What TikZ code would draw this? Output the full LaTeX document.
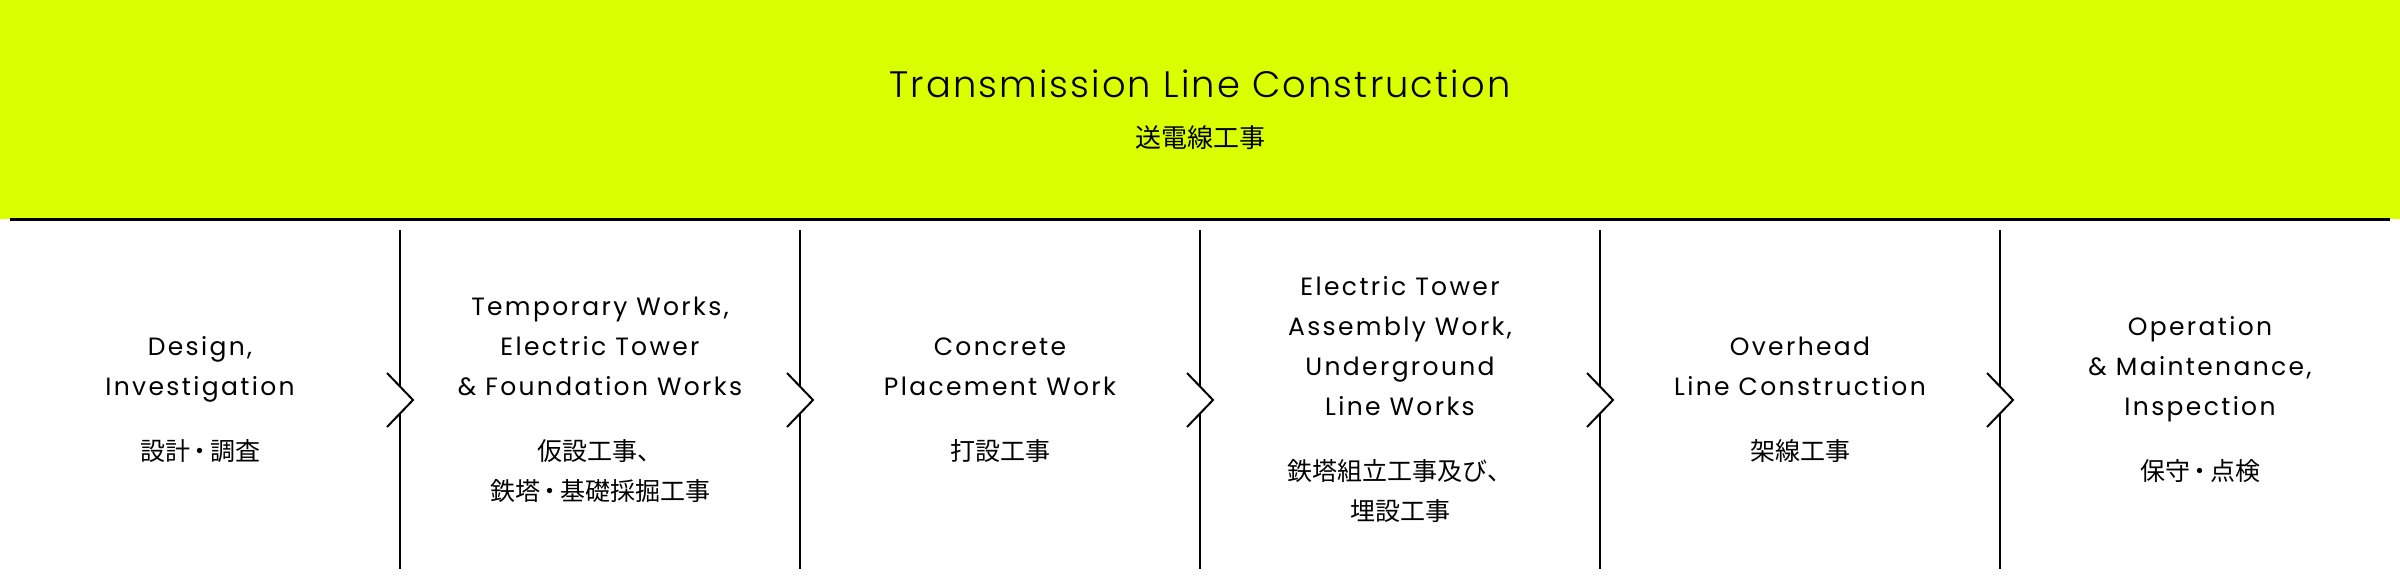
\documentclass[tikz,border=0pt]{standalone}
\usepackage{fontspec}
\setmainfont{Poppins}
\newfontfamily\jpfont{Noto Sans CJK JP}
\newfontfamily\entitlefont{Poppins}[UprightFont=* Light, LetterSpace=5.8]
\newfontfamily\enbodyfont{Poppins}[LetterSpace=9.4]
\newcommand\jdot{\kern-0.1em・\kern-0.1em}
\definecolor{limebar}{RGB}{217,255,0}
\begin{document}
\begin{tikzpicture}[x=0.5pt,y=-0.5pt,
  en/.style={font=\enbodyfont\fontsize{12.5}{15}\selectfont, anchor=base, inner sep=0pt},
  jp/.style={font=\jpfont\fontsize{12.5}{15}\selectfont, anchor=base, inner sep=0pt},
  divider/.style={line width=1pt},
  chevron/.style={line width=1pt, line join=miter},
  rule/.style={line width=1.25pt}]
\useasboundingbox (0,0) rectangle (2400,580);
\fill[limebar] (0,0) rectangle (2400,218.5);
\coordinate (ruleL) at (10,219.5);
\coordinate (ruleR) at (2390,219.5);
\draw[rule] (ruleL) -- (ruleR);
% title
\node[anchor=base, inner sep=0pt, font=\entitlefont\fontsize{18.4}{22}\selectfont] (title) at (1200,97.3) {Transmission Line Construction};
\node[jp, font=\jpfont\fontsize{13}{15}\selectfont] (titlejp) at (1200,147) {送電線工事};
% dividers and chevrons
\foreach \i in {1,...,5}{
  \coordinate (top\i) at (400*\i,230);
  \coordinate (upx\i) at (400*\i,386.5);
  \coordinate (lox\i) at (400*\i,413.5);
  \coordinate (bot\i) at (400*\i,569);
  \coordinate (chA\i) at (400*\i-13,373);
  \coordinate (chB\i) at (400*\i+13,400);
  \coordinate (chC\i) at (400*\i-13,427);
  \draw[divider] (top\i) -- (upx\i);
  \draw[divider] (lox\i) -- (bot\i);
  \draw[chevron] (chA\i) -- (chB\i) -- (chC\i);
}
% column 1
\node[en] (c1a) at (200,355.75) {Design,};
\node[en] (c1b) at (200,395.75) {Investigation};
\node[jp] (c1j) at (200,460.5) {設計\jdot 調査};
% column 2
\node[en] (c2a) at (600,315.75) {Temporary Works,};
\node[en] (c2b) at (600,355.75) {Electric Tower};
\node[en] (c2c) at (600,395.75) {\& Foundation Works};
\node[jp] (c2j) at (600,460.5) {仮設工事、};
\node[jp] (c2k) at (600,500.5) {鉄塔\jdot 基礎採掘工事};
% column 3
\node[en] (c3a) at (1000,355.75) {Concrete};
\node[en] (c3b) at (1000,395.75) {Placement Work};
\node[jp] (c3j) at (1000,460.5) {打設工事};
% column 4
\node[en] (c4a) at (1400,295.75) {Electric Tower};
\node[en] (c4b) at (1400,335.75) {Assembly Work,};
\node[en] (c4c) at (1400,375.75) {Underground};
\node[en] (c4d) at (1400,415.75) {Line Works};
\node[jp] (c4j) at (1400,480.5) {鉄塔組立工事及び、};
\node[jp] (c4k) at (1400,520.5) {埋設工事};
% column 5
\node[en] (c5a) at (1800,355.75) {Overhead};
\node[en] (c5b) at (1800,395.75) {Line Construction};
\node[jp] (c5j) at (1800,460.5) {架線工事};
% column 6
\node[en] (c6a) at (2200,335.75) {Operation};
\node[en] (c6b) at (2200,375.75) {\& Maintenance,};
\node[en] (c6c) at (2200,415.75) {Inspection};
\node[jp] (c6j) at (2200,480.5) {保守\jdot 点検};
\end{tikzpicture}
\end{document}
